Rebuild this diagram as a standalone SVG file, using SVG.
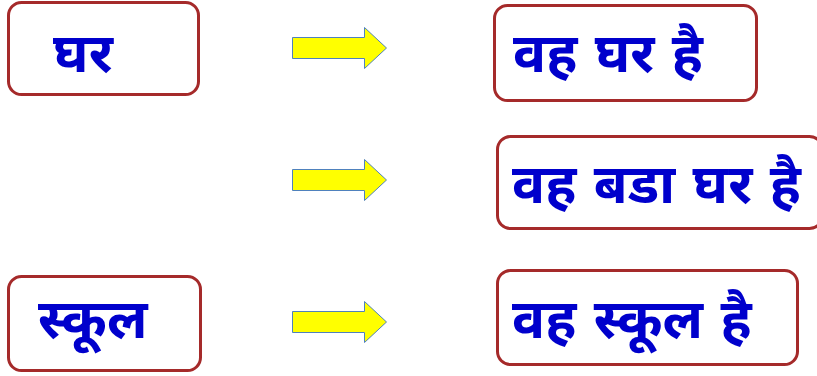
<svg xmlns="http://www.w3.org/2000/svg" width="817" height="376" viewBox="0 0 817 376">
<style>
.box{fill:#fff;stroke:#a52a2a;stroke-width:3}
.t{fill:#0000cc;font-family:"Noto Sans Devanagari","Noto Sans","Lohit Devanagari","Mangal",sans-serif;font-weight:bold;font-size:55px;word-spacing:3px}
.arr{fill:#ffff00;stroke:#4f81bd;stroke-width:1}
</style>
<defs>
<path id="arrow" class="arr" d="M0,10 H72 V0 L94,20.5 L72,41 V31 H0 Z"/>
</defs>
<rect width="817" height="376" fill="#fff"/>
<g id="n1"><rect class="box" x="8.5" y="2.5" width="190" height="92" rx="13"/><text class="t" x="53" y="72">घर</text></g>
<g id="n2"><rect class="box" x="494.5" y="5.5" width="262" height="95" rx="13"/><text class="t" x="513" y="72">वह घर है</text></g>
<g id="n3"><rect class="box" x="497.5" y="136.5" width="325" height="92" rx="13"/><text class="t" x="512" y="203">वह बडा घर है</text></g>
<g id="n4"><rect class="box" x="8.5" y="276.5" width="192" height="94" rx="13"/><text class="t" x="38" y="338">स्कूल</text></g>
<g id="n5"><rect class="box" x="497.5" y="270.5" width="300" height="94" rx="13"/><text class="t" x="512" y="338">वह स्कूल है</text></g>
<g id="connectors">
<use href="#arrow" x="292.5" y="27.5"/>
<use href="#arrow" x="292.5" y="159.5"/>
<use href="#arrow" x="292.5" y="301.5"/>
</g>
</svg>
